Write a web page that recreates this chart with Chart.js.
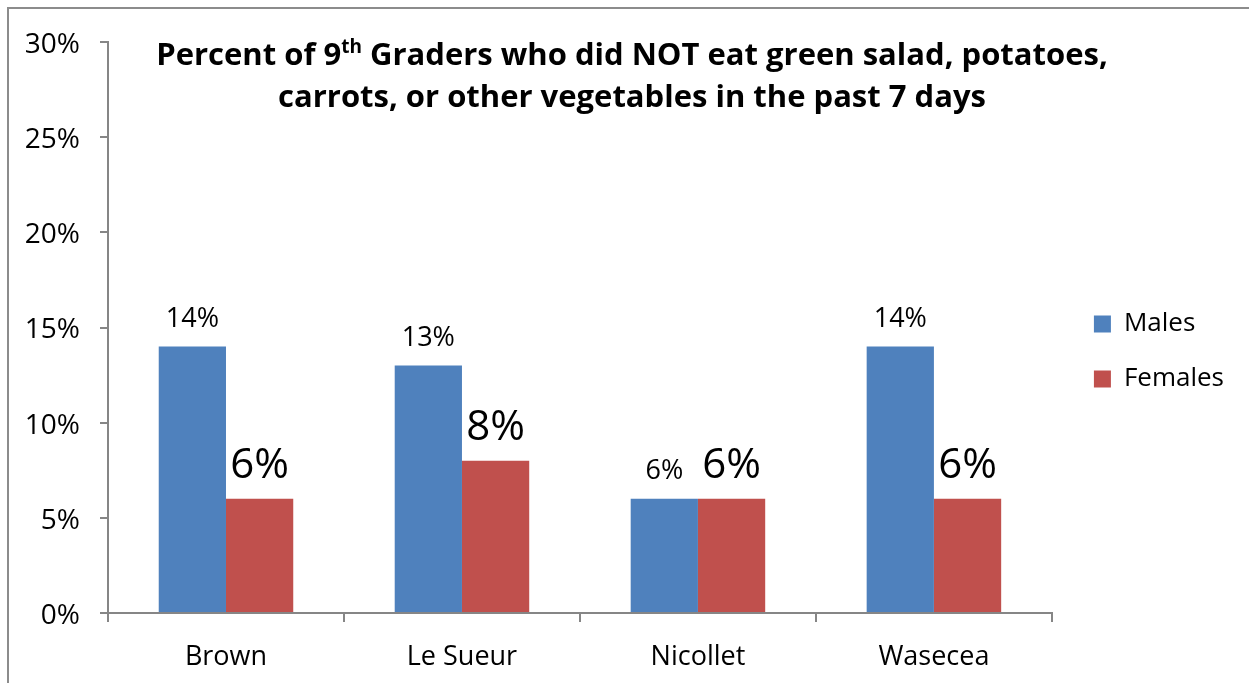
<!DOCTYPE html>
<html>
<head>
<meta charset="utf-8">
<script src="https://cdn.jsdelivr.net/npm/chart.js"></script>
<style>
  html, body { margin: 0; padding: 0; background: #fff; }
</style>
</head>
<body>
<canvas id="graficoVeg" width="1249" height="683"></canvas>
<script>
// data
const counties = ['Brown', 'Le Sueur', 'Nicollet', 'Wasecea'];
const males = [14, 13, 6, 14];
const females = [6, 8, 6, 6];
const yTicks = [0, 5, 10, 15, 20, 25, 30];

const FONT = '"Open Sans"';
const AXIS = '#868686';

// grey frame round the chart (only left and top show in the picture)
const frame = {
  id: 'frame',
  beforeDraw(chart) {
    const ctx = chart.ctx;
    ctx.save();
    ctx.strokeStyle = '#8c8c8c';
    ctx.lineWidth = 2;
    ctx.beginPath();
    ctx.moveTo(8, chart.height);
    ctx.lineTo(8, 8);
    ctx.lineTo(chart.width, 8);
    ctx.stroke();
    ctx.restore();
  }
};

// title with the superscript "th"
const titleText = {
  id: 'titleText',
  afterDraw(chart) {
    const ctx = chart.ctx;
    const cx = 632;
    ctx.save();
    ctx.fillStyle = '#000';
    ctx.textBaseline = 'alphabetic';
    const big = 'bold 31px ' + FONT;
    const sup = 'bold 19px ' + FONT;
    const parts = [
      ['Percent of 9', big, 0],
      ['th', sup, -12],
      [' Graders who did NOT eat green salad, potatoes,', big, 0]
    ];
    let w = 0;
    parts.forEach(p => { ctx.font = p[1]; w += ctx.measureText(p[0]).width; });
    let x = cx - w / 2;
    ctx.textAlign = 'left';
    parts.forEach(p => {
      ctx.font = p[1];
      ctx.fillText(p[0], x, 65 + p[2]);
      x += ctx.measureText(p[0]).width;
    });
    ctx.font = big;
    ctx.textAlign = 'center';
    ctx.fillText('carrots, or other vegetables in the past 7 days', cx, 107);
    ctx.restore();
  }
};

// value labels over the bars
const barLabels = {
  id: 'barLabels',
  afterDatasetsDraw(chart) {
    const ctx = chart.ctx;
    ctx.save();
    ctx.fillStyle = '#000';
    ctx.textAlign = 'center';
    ctx.textBaseline = 'alphabetic';
    chart.data.datasets.forEach((ds, i) => {
      const meta = chart.getDatasetMeta(i);
      ctx.font = ds.labelSize + 'px ' + FONT;
      meta.data.forEach((bar, j) => {
        ctx.fillText(ds.data[j] + '%', bar.x, bar.y - ds.labelGap);
      });
    });
    ctx.restore();
  }
};

// nudge the legend to where it sits in the picture
const legendNudge = {
  id: 'legendNudge',
  afterLayout(chart) {
    const lg = chart.legend;
    lg.left += 13; lg.right += 13;
    lg.top -= 6; lg.bottom -= 6;
  }
};

const ctx = document.getElementById('graficoVeg').getContext('2d');
const grafico = new Chart(ctx, {
  type: 'bar',
  data: {
    labels: counties,
    datasets: [{
      label: 'Males',
      data: males,
      backgroundColor: '#4F81BD',
      categoryPercentage: 0.57,
      barPercentage: 1.0,
      labelSize: 27,
      labelGap: 20
    }, {
      label: 'Females',
      data: females,
      backgroundColor: '#C0504D',
      categoryPercentage: 0.57,
      barPercentage: 1.0,
      labelSize: 42,
      labelGap: 21
    }]
  },
  options: {
    responsive: false,
    animation: false,
    devicePixelRatio: 1,
    layout: { padding: { left: 8, top: 42, right: 28, bottom: 10 } },
    scales: {
      x: {
        grid: { drawOnChartArea: false, drawTicks: true, tickLength: 9, color: AXIS, lineWidth: 2, offset: true },
        border: { color: AXIS, width: 2 },
        ticks: { color: '#000', font: { family: FONT, size: 27 }, padding: 19 },
        afterFit(s) { s.height = 60; }
      },
      y: {
        min: 0,
        max: 30,
        afterBuildTicks(s) { s.ticks = yTicks.map(v => ({ value: v })); },
        grid: { drawOnChartArea: false, drawTicks: true, tickLength: 8, color: AXIS, lineWidth: 2 },
        border: { color: AXIS, width: 2 },
        ticks: { color: '#000', font: { family: FONT, size: 28 }, padding: 20, labelOffset: 3, callback: v => v + '%' },
        afterFit(s) { s.width = 100; }
      }
    },
    plugins: {
      legend: {
        position: 'right',
        align: 'center',
        labels: { boxWidth: 17, boxHeight: 17, padding: 29, color: '#000', font: { family: FONT, size: 26 } }
      },
      tooltip: { enabled: false }
    }
  },
  plugins: [frame, titleText, barLabels, legendNudge]
});
</script>
</body>
</html>
